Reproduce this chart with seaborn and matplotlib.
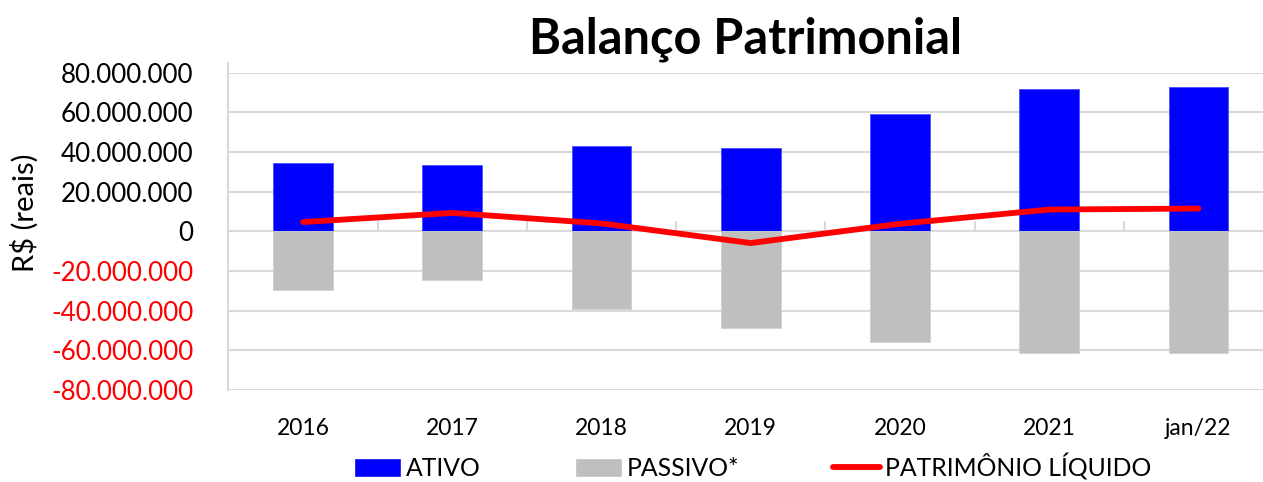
import numpy as np
import pandas as pd
import matplotlib
matplotlib.use("Agg")
import matplotlib.pyplot as plt
import seaborn as sns
from matplotlib.patches import Patch
from matplotlib.lines import Line2D

# ---- data (R$) ----
categories = ["2016", "2017", "2018", "2019", "2020", "2021", "jan/22"]
ativo = [34.5e6, 33.7e6, 43.1e6, 41.9e6, 59.1e6, 71.8e6, 72.8e6]
passivo = [-29.8e6, -24.6e6, -39.3e6, -48.5e6, -55.6e6, -61.5e6, -61.5e6]
patrimonio = [4.7e6, 9.3e6, 4.0e6, -5.9e6, 3.8e6, 11.0e6, 11.5e6]
yticks = [-80e6, -60e6, -40e6, -20e6, 0, 20e6, 40e6, 60e6, 80e6]

sns.set_theme(style="white")
plt.rcParams["font.family"] = ["Lato", "DejaVu Sans"]
plt.rcParams.update({"text.color": "black", "axes.labelcolor": "black",
                     "xtick.color": "black", "ytick.color": "black"})

fig = plt.figure(figsize=(12.63, 4.82), dpi=100)
ax = fig.add_axes([228.4 / 1263, 92 / 482, 1044.6 / 1263, 317.3 / 482])

df = pd.DataFrame({"cat": categories, "ativo": ativo, "passivo": passivo})
x = np.arange(len(categories))

# gridlines
for v in yticks:
    ax.axhline(v, color="#d9d9d9", lw=1.5, zorder=0)

sns.barplot(data=df, x="cat", y="ativo", color="#0000ff", saturation=1,
            width=0.4, ax=ax, zorder=2, edgecolor="#4d4dff", linewidth=0.6)
sns.barplot(data=df, x="cat", y="passivo", color="#bfbfbf", saturation=1,
            width=0.4, ax=ax, zorder=2, edgecolor="#d0d0d0", linewidth=0.6)
sns.lineplot(x=x, y=patrimonio, color="#ff0000", lw=4.2, ax=ax, zorder=3,
             solid_capstyle="round", solid_joinstyle="round")

ax.set_xlim(-0.5, 6.5)
ax.set_ylim(-80e6, 80e6)
ax.set_yticks(yticks)
ax.set_yticklabels([f"{int(v):,}".replace(",", ".") for v in yticks], fontsize=18.7)
for lbl, v in zip(ax.get_yticklabels(), yticks):
    lbl.set_color("#ff0000" if v < 0 else "black")
ax.set_xticks(x)
ax.set_xticklabels(categories, fontsize=16.5)
ax.tick_params(axis="x", length=0, pad=20)
ax.tick_params(axis="y", length=0, pad=25)
ax.set_xlabel("")
ax.set_ylabel("R$ (reais)", fontsize=21)
ax.yaxis.set_label_coords((39 - 228.4) / 1044.6, 0.56)

for s in ["top", "right", "bottom"]:
    ax.spines[s].set_visible(False)
ax.spines["left"].set_color("#d9d9d9")
ax.spines["left"].set_linewidth(1.5)
ax.spines["left"].set_bounds(-80e6, 85e6)

# category axis at zero with tick marks between categories
sec = ax.secondary_xaxis(0.5)
sec.set_xticks(np.arange(0.5, 6.5, 1.0))
sec.set_xticklabels([])
sec.tick_params(axis="x", length=7, width=1.5, color="#d9d9d9", direction="out")
for sp in sec.spines.values():
    sp.set_color("#d9d9d9")
    sp.set_linewidth(1.5)

ax.set_title("Balanço Patrimonial", fontsize=35, fontweight="bold", pad=14, x=0.495)

handles = [Patch(facecolor="#0000ff", label="ATIVO"),
           Patch(facecolor="#bfbfbf", label="PASSIVO*"),
           Line2D([0], [0], color="#ff0000", lw=4.2, solid_capstyle="round",
                  label="PATRIMÔNIO LÍQUIDO")]
fig.legend(handles=handles, loc="center", bbox_to_anchor=(0.596, 0.032), ncol=3,
           frameon=False, fontsize=17.8, handlelength=1.9, handleheight=0.8,
           handletextpad=0.2, columnspacing=3.8)

fig.savefig("out.png", dpi=100)
